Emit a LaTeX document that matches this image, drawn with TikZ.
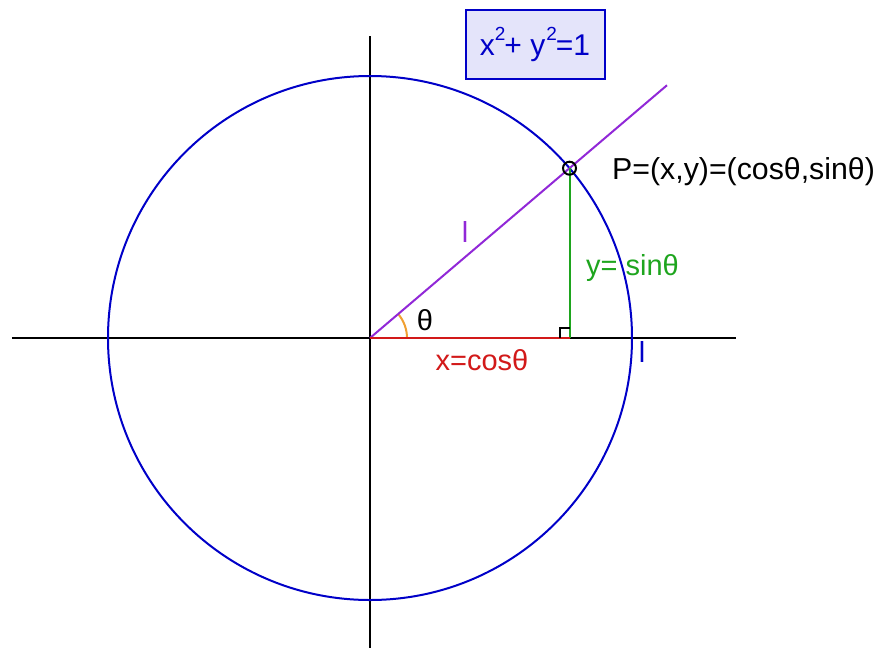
\documentclass[tikz,border=0pt]{standalone}
\usepackage{fontspec}
\setmainfont{Liberation Sans}
\definecolor{cblue}{RGB}{0,0,200}
\definecolor{cpurple}{RGB}{145,40,215}
\definecolor{cgreen}{RGB}{30,165,30}
\definecolor{cred}{RGB}{210,25,25}
\definecolor{corange}{RGB}{240,160,50}
\definecolor{cbox}{RGB}{228,228,250}
\tikzset{
  txt/.style={font=\fontsize{29}{32}\selectfont, inner sep=0pt},
  ln/.style={line width=2pt}
}
\newcommand{\sqr}{\raisebox{14.5pt}{\fontsize{19}{20}\selectfont 2}}
\begin{document}
\begin{tikzpicture}[x=1pt, y=1pt]
   \useasboundingbox (-370,-311) rectangle (507,338);
   \newdimen\R
   \R=262pt
   \coordinate (O) at (0,0);
   \coordinate (P) at (40.4:\R);
   \coordinate (Q) at (O -| P);
   \coordinate (E) at (40.4:390pt);
   % axes
   \draw[ln] (-358,0) coordinate (xl) -- (366,0) coordinate (xr);
   \draw[ln] (0,302) coordinate (yt) -- (0,-310) coordinate (yb);
   \draw[ln, cblue] (O) circle (\R);
   % angle and sides
   \draw[ln, corange] (37,0) arc (0:40.4:37);
   \draw[ln, cpurple] (O) -- (E);
   \draw[ln, cgreen] (P) -- (Q);
   \draw[line width=2.5pt, cred] (O) -- (Q);
   \draw[ln] ([xshift=-10pt]Q) |- ([yshift=10pt]Q) coordinate (sq);
   \draw[ln] (P) circle (6.5);
   % labels
   \node[txt] (th) at (55,18) {θ};
   \node[txt, cred] (xc) at (112,-22) {x=cosθ};
   \node[txt, cgreen, anchor=west] (ys) at (216,70) {y= sinθ};
   \node[txt, cpurple] (l1) at (95,106) {l};
   \node[txt, cblue] (l2) at (272,-14) {l};
   \node[txt, font=\fontsize{30.3}{33}\selectfont, anchor=west] (pt) at (242,166)
         {P=(x,y)=(cosθ,sinθ)};
   \node[txt, cblue, draw=cblue, fill=cbox, line width=2pt,
         font=\fontsize{30}{33}\selectfont,
         minimum width=139pt, minimum height=69pt] (eq) at (165,293.5)
         {x\sqr\hspace{-1pt}+ y\hspace{1pt}\sqr\hspace{-1pt}=1};
\end{tikzpicture}
\end{document}
